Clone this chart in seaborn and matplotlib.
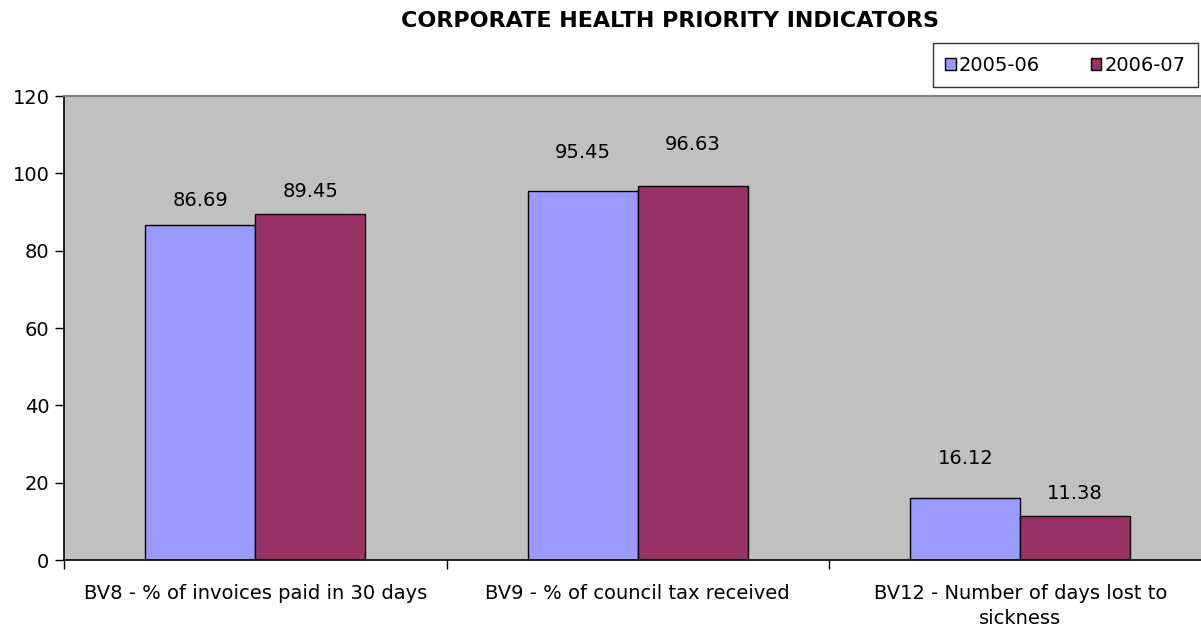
import matplotlib
matplotlib.use("Agg")
import matplotlib.pyplot as plt
import seaborn as sns
import pandas as pd
from matplotlib.patches import Patch

categories = ["BV8 - % of invoices paid in 30 days",
              "BV9 - % of council tax received",
              "BV12 - Number of days lost to\nsickness"]
series_names = ["2005-06", "2006-07"]
values_0506 = [86.69, 95.45, 16.12]
values_0607 = [89.45, 96.63, 11.38]
yticks = [0, 20, 40, 60, 80, 100, 120]
colors = ["#9999FF", "#993366"]
# vertical gap (px) between bar top and label centre, as placed in the original chart
label_gap_px = [[26, 40, 40.5], [24.5, 43.5, 24.5]]

df = pd.DataFrame({
    "category": categories * 2,
    "year": [series_names[0]] * 3 + [series_names[1]] * 3,
    "value": values_0506 + values_0607,
})

sns.set_style("white")
plt.rcParams["font.family"] = ["DejaVu Sans"]
plt.rcParams["text.color"] = "black"
plt.rcParams["xtick.color"] = "black"
plt.rcParams["ytick.color"] = "black"
plt.rcParams["xtick.labelcolor"] = "black"
plt.rcParams["ytick.labelcolor"] = "black"

FS = 14

fig = plt.figure(figsize=(12.01, 6.29), dpi=100)
ax = fig.add_axes([64 / 1201, 1 - 560 / 629, 1147.5 / 1201, (560 - 96) / 629])
ax.set_facecolor("#C0C0C0")

sns.barplot(data=df, x="category", y="value", hue="year", palette=colors,
            width=0.575, edgecolor="black", linewidth=1, ax=ax, legend=False,
            saturation=1)

ax.set_xlim(-0.5, 2.5)
ax.set_ylim(0, 120)
ax.set_yticks(yticks)
ax.set_xlabel("")
ax.set_ylabel("")
ax.tick_params(axis="y", labelsize=FS, length=6.5, width=1, direction="out", left=True, color="black", pad=4)
ax.tick_params(axis="x", which="major", labelsize=FS, length=0, pad=17)
ax.set_xticks([-0.5, 0.5, 1.5, 2.5], minor=True)
ax.tick_params(axis="x", which="minor", length=6.5, width=1, direction="out", bottom=True, color="black")
for lbl in ax.get_xticklabels():
    lbl.set_linespacing(1.4)

for s in ["left", "bottom"]:
    ax.spines[s].set_color("black")
    ax.spines[s].set_linewidth(1.2)
ax.spines["top"].set_color("#808080")
ax.spines["top"].set_linewidth(1.5)
ax.spines["right"].set_visible(False)

cap_px = 0.73 * FS * 100 / 72
for ci, cont in enumerate(ax.containers):
    for bi, bar in enumerate(cont):
        h = bar.get_height()
        off_pt = (label_gap_px[ci][bi] - cap_px / 2) * 0.72
        ax.annotate(f"{h:.2f}", (bar.get_x() + bar.get_width() / 2, h),
                    xytext=(0, off_pt), textcoords="offset points",
                    ha="center", va="baseline", fontsize=FS)

handles = [Patch(facecolor=c, edgecolor="black", label=n) for c, n in zip(colors, series_names)]
leg = fig.legend(handles=handles, loc="upper right", bbox_to_anchor=(1198 / 1201, 1 - 43 / 629),
                 ncol=2, frameon=True, fancybox=False, fontsize=FS, handlelength=0.55,
                 handleheight=0.55, handletextpad=0.15, columnspacing=2.6, borderpad=0.65,
                 borderaxespad=0)
leg.get_frame().set_edgecolor("black")
leg.get_frame().set_linewidth(1)

fig.text(670 / 1201, 1 - 21 / 629, "CORPORATE HEALTH PRIORITY INDICATORS",
         ha="center", va="center", fontsize=16, fontweight="bold")

fig.savefig("out.png", dpi=100, facecolor="white")
